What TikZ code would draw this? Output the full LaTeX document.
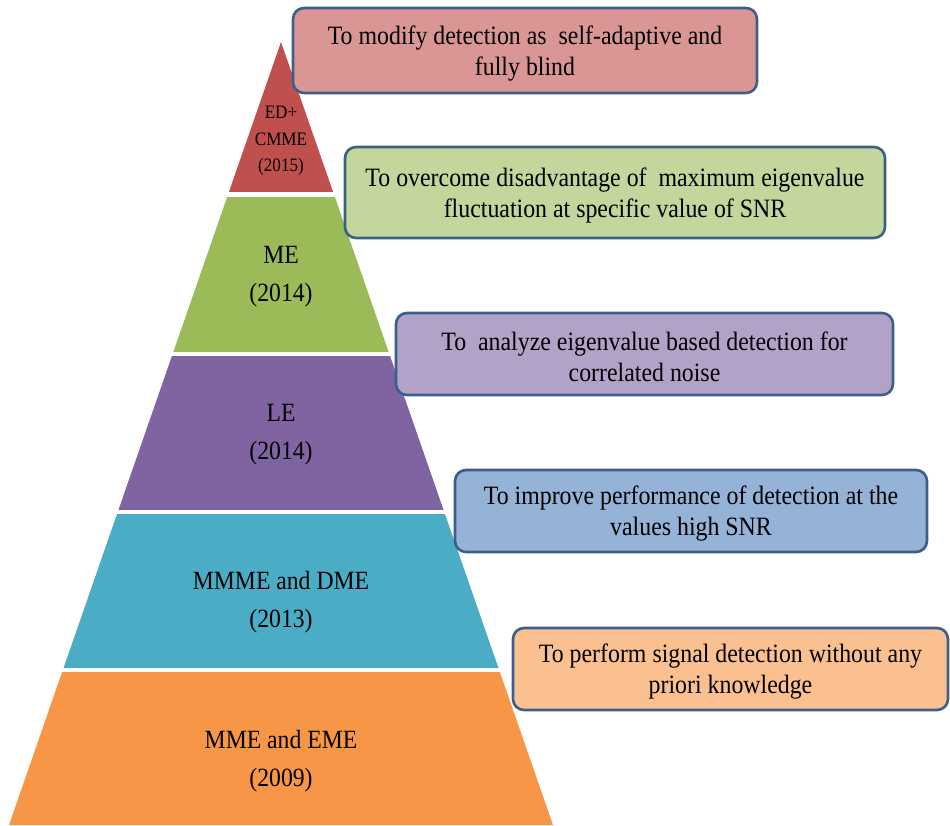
\documentclass[tikz,border=0pt]{standalone}
\usepackage{fontspec}
\setmainfont[FakeStretch=0.9]{Liberation Serif}
\definecolor{lred}{HTML}{C0504D}
\definecolor{lgreen}{HTML}{9BBB59}
\definecolor{lpurple}{HTML}{8064A2}
\definecolor{lteal}{HTML}{4BACC6}
\definecolor{lorange}{HTML}{F79646}
\definecolor{bred}{HTML}{D99694}
\definecolor{bgreen}{HTML}{C3D69B}
\definecolor{bpurple}{HTML}{B3A2C7}
\definecolor{bblue}{HTML}{95B3D7}
\definecolor{borange}{HTML}{FAC090}
\definecolor{bline}{HTML}{3A5F8B}
\begin{document}
\begin{tikzpicture}[x=1pt,y=-1pt,
  goalbox/.style={draw=bline, line width=2.6pt, rounded corners=11pt, align=center, inner sep=0pt,
    font=\fontsize{26.5}{31}\selectfont},
  boxtext/.style={align=center, inner sep=0pt, font=\fontsize{26.5}{31}\selectfont},
  layertext/.style={align=center, inner sep=0pt, font=\fontsize{26.3}{38}\selectfont},
  toptext/.style={align=center, inner sep=0pt, font=\fontsize{19}{26.5}\selectfont}]
\useasboundingbox (0,0) rectangle (950,825);
% pyramid
\begin{scope}
  \clip (281,42) -- (9,825) -- (553,825) -- cycle;
  \fill[lred] (0,0) rectangle (600,192);
  \fill[lgreen] (0,196.5) rectangle (600,352);
  \fill[lpurple] (0,355.5) rectangle (600,510);
  \fill[lteal] (0,513.5) rectangle (600,668);
  \fill[lorange] (0,671.5) rectangle (600,830);
\end{scope}
\node[toptext] (l1) at (281,141) {ED+\\CMME\\(2015)};
\node[layertext] (l2) at (281,277) {ME\\(2014)};
\node[layertext] (l3) at (281,435) {LE\\(2014)};
\node[layertext] (l4) at (281,602) {MMME and DME\\(2013)};
\node[layertext] (l5) at (281,761.5) {MME and EME\\(2009)};
% goal boxes
\node[goalbox, fill=bred, minimum width=464pt, minimum height=85pt] (g1) at (525,50.5) {};
\node[boxtext] (t1) at ([yshift=-3pt]g1.center)
  {To modify detection as\ \ self-adaptive and\\fully blind};
\node[goalbox, fill=bgreen, minimum width=540pt, minimum height=91pt] (g2) at (615,192.5) {};
\node[boxtext] (t2) at ([yshift=-3pt]g2.center)
  {To overcome disadvantage of\ \ maximum eigenvalue\\fluctuation at specific value of SNR};
\node[goalbox, fill=bpurple, minimum width=497pt, minimum height=82pt] (g3) at (644.5,354) {};
\node[boxtext] (t3) at ([yshift=-3pt]g3.center)
  {To\ \ analyze eigenvalue based detection for\\correlated noise};
\node[goalbox, fill=bblue, minimum width=472pt, minimum height=82pt] (g4) at (691,511) {};
\node[boxtext] (t4) at ([yshift=-3pt]g4.center)
  {To improve performance of detection at the\\values high SNR};
\node[goalbox, fill=borange, minimum width=435pt, minimum height=82pt] (g5) at (730.5,669) {};
\node[boxtext] (t5) at ([yshift=-3pt]g5.center)
  {To perform signal detection without any\\priori knowledge};
\end{tikzpicture}
\end{document}
